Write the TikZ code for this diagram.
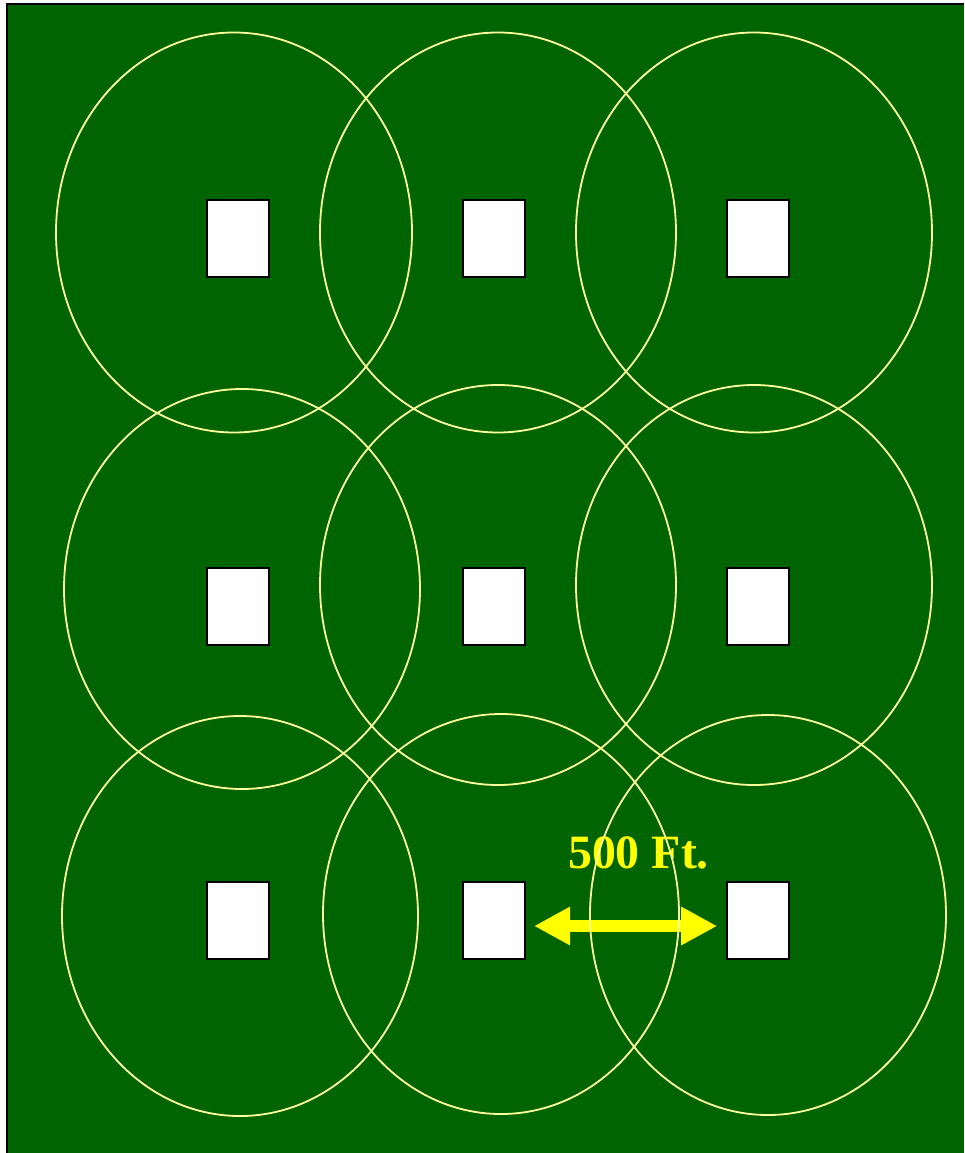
\documentclass[tikz,border=0pt]{standalone}
\usepackage{fontspec}
\setmainfont{Liberation Serif}
\usetikzlibrary{arrows.meta}
\definecolor{grass}{HTML}{006400}
\definecolor{paleyel}{HTML}{FFFF99}
\definecolor{signyel}{HTML}{FFFF00}
\begin{document}
\begin{tikzpicture}[x=.25mm,y=-.25mm,line width=.5mm,>=latex,
  line join=miter,
  well/.style={draw=black,fill=white,minimum width=15.5mm,
    minimum height=19.25mm,inner sep=0pt},
  ring/.style={draw=paleyel,line width=.45mm},
  ray/.style={draw=signyel,line width=3mm,
    {Triangle[length=9mm,width=9mm]}-{Triangle[length=9mm,width=9mm]}},
  lbl/.style={text=signyel,inner sep=0pt,
    font=\bfseries\fontsize{34}{40}\selectfont}]
  % Each well sits inside its pale coverage ring; rings overlap their neighbours.
  \def\rI#1{\draw[ring] #1 ellipse[x radius=44.5mm,y radius=50mm];}
  \useasboundingbox (0,0) rectangle (964,1153);
  \fill[grass] (7,4) rectangle (964,1153);
  \draw (7,1153)--(7,4)--(964,4);
  \node[well] (w11) at (238,238) {};
  \node[well] (w12) at (494,238) {};
  \node[well] (w13) at (758,238) {};
  \node[well] (w21) at (238,606) {};
  \node[well] (w22) at (494,606) {};
  \node[well] (w23) at (758,606) {};
  \node[well] (w31) at (238,920) {};
  \node[well] (w32) at (494,920) {};
  \node[well] (w33) at (758,920) {};
  \draw[ray,shorten <=2mm,shorten >=2.2mm] ([yshift=-1.5mm]w32.east)
    -- ([yshift=-1.5mm]w33.west);
  \node[lbl,anchor=base] (dist) at (638.5,868) {500 Ft.};
  \rI{(234,232.5)}
  \rI{(498,232.5)}
  \rI{(754,232.5)}
  \rI{(242,589)}
  \rI{(498,585)}
  \rI{(754,585)}
  \rI{(240,916)}
  \rI{(501,914)}
  \rI{(768,915)}
\end{tikzpicture}
\end{document}
